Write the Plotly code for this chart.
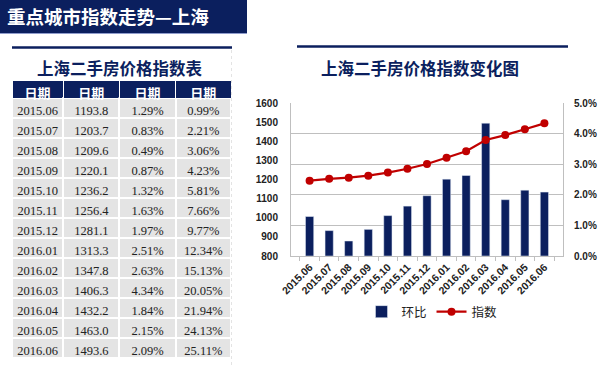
import plotly.graph_objects as go

W, H = 600, 365

months = ['2015.06', '2015.07', '2015.08', '2015.09', '2015.10', '2015.11', '2015.12',
          '2016.01', '2016.02', '2016.03', '2016.04', '2016.05', '2016.06']
index_vals = [1193.8, 1203.7, 1209.6, 1220.1, 1236.2, 1256.4, 1281.1,
              1313.3, 1347.8, 1406.3, 1432.2, 1463.0, 1493.6]
mom_pct = [1.29, 0.83, 0.49, 0.87, 1.32, 1.63, 1.97, 2.51, 2.63, 4.34, 1.84, 2.15, 2.09]
cum_pct = [0.99, 2.21, 3.06, 4.23, 5.81, 7.66, 9.77, 12.34, 15.13, 20.05, 21.94, 24.13, 25.11]
header_labels = ['日期', '日期', '日期', '日期']

NAVY = '#0b1f5e'
RED = '#c00000'
CJK = 'Noto Sans CJK SC'


def px(x):
    return x / W


def py(y):
    return 1 - y / H


fig = go.Figure()

# ---- table ----
fig.add_trace(go.Table(
    domain=dict(x=[px(12), px(231)], y=[py(365), py(80)]),
    columnwidth=[51, 56, 56, 55],
    header=dict(
        values=header_labels,
        fill_color=NAVY,
        line=dict(color='white', width=1),
        font=dict(family=CJK, size=13, color='white', weight='bold'),
        align='center', height=18,
    ),
    cells=dict(
        values=[months,
                [f'{v:.1f}' for v in index_vals],
                [f'{v:.2f}%' for v in mom_pct],
                [f'{v:.2f}%' for v in cum_pct]],
        fill_color='#e4e4e4',
        line=dict(color='white', width=2),
        font=dict(family='Liberation Serif', size=12.5, color='#222222'),
        align='center', height=20,
    ),
))

# ---- chart ----
fig.add_trace(go.Bar(
    x=months, y=mom_pct, name='环比',
    marker=dict(color=NAVY), width=0.42, yaxis='y',
))
fig.add_trace(go.Scatter(
    x=months, y=index_vals, name='指数', mode='lines+markers',
    line=dict(color=RED, width=2.2),
    marker=dict(color=RED, size=8), yaxis='y2',
))

axfont = dict(family='Liberation Sans', size=10, color='#222222', weight='bold')

fig.update_layout(
    width=W, height=H,
    margin=dict(l=0, r=0, t=0, b=0, pad=0, autoexpand=False),
    paper_bgcolor='white', plot_bgcolor='white',
    showlegend=True,
    legend=dict(orientation='h', x=px(432), xanchor='center', y=py(312), yanchor='middle',
                font=dict(family=CJK, size=12.5, color='#222222'),
                itemwidth=30, tracegroupgap=0, bgcolor='rgba(0,0,0,0)'),
    xaxis=dict(domain=[px(291), px(563)], type='category', automargin=False,
               showline=True, linecolor='#bfbfbf', linewidth=1,
               ticks='outside', ticklen=4, tickcolor='#bfbfbf', tickson='boundaries',
               tickangle=-45, tickfont=dict(family='Liberation Sans', size=10.5, color='#222222', weight='bold'),
               showgrid=False, fixedrange=True),
    yaxis=dict(domain=[py(256), py(103)], side='right', range=[0, 5], dtick=1,
               tickformat='.1f', ticksuffix='%', automargin=False,
               showgrid=True, gridcolor='#bfbfbf', gridwidth=1,
               zeroline=False, showline=True, linecolor='#bfbfbf', linewidth=1,
               ticklabelstandoff=8, tickfont=axfont, fixedrange=True),
    yaxis2=dict(overlaying='y', side='left', range=[800, 1600], dtick=100, automargin=False,
                showgrid=False, zeroline=False, showline=True, linecolor='#bfbfbf', linewidth=1,
                ticklabelstandoff=10, tickfont=axfont, fixedrange=True),
    bargap=0.58,
)

shapes = [
    # banner
    dict(type='rect', xref='paper', yref='paper', x0=0, x1=px(247), y0=py(33), y1=1,
         fillcolor=NAVY, line=dict(width=0), layer='below'),
    dict(type='line', xref='paper', yref='paper', x0=0, x1=px(247), y0=py(33.5), y1=py(33.5),
         line=dict(color='#8f9ccc', width=1)),
    # table title rule
    dict(type='line', xref='paper', yref='paper', x0=px(12), x1=px(232), y0=py(47.5), y1=py(47.5),
         line=dict(color=NAVY, width=2.5)),
    # chart title rule
    dict(type='line', xref='paper', yref='paper', x0=px(297), x1=px(568), y0=py(46.5), y1=py(46.5),
         line=dict(color=NAVY, width=2.5)),
    # faint separator right of table
    dict(type='line', xref='paper', yref='paper', x0=px(231.5), x1=px(231.5), y0=py(365), y1=py(49),
         line=dict(color='#e3e3e3', width=1, dash='dot')),
]
fig.update_layout(shapes=shapes)

annotations = [
    dict(text='<b>重点城市指数走势—上海</b>', x=px(5), y=py(16), xref='paper', yref='paper',
         xanchor='left', yanchor='middle', showarrow=False,
         font=dict(family=CJK, size=18.5, color='white')),
    dict(text='<b>上海二手房价格指数表</b>', x=px(120), y=py(68), xref='paper', yref='paper',
         xanchor='center', yanchor='middle', showarrow=False,
         font=dict(family=CJK, size=16.5, color=NAVY)),
    dict(text='<b>上海二手房价格指数变化图</b>', x=px(420), y=py(68), xref='paper', yref='paper',
         xanchor='center', yanchor='middle', showarrow=False,
         font=dict(family=CJK, size=16.5, color=NAVY)),
]
fig.update_layout(annotations=annotations)

fig.write_html('out.html', config={'displayModeBar': False},
               post_script="document.body.style.margin='0';document.body.style.overflow='hidden';")
